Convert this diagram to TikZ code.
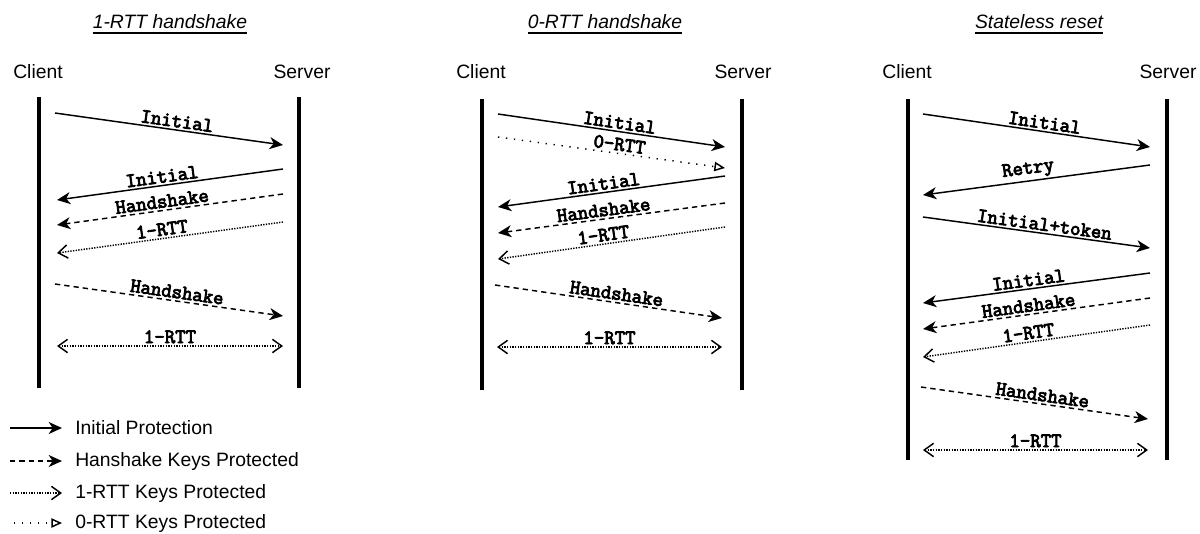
\documentclass[tikz,border=0pt]{standalone}
\usepackage{fontspec}
\setmainfont{Liberation Sans}
\newfontfamily\msgfont[FakeBold=4]{Latin Modern Mono}
\usetikzlibrary{arrows.meta}

\begin{document}
\begin{tikzpicture}[
  x=0.75pt, y=-0.75pt,
  title/.style={font=\fontsize{14.5}{17}\selectfont\itshape, inner sep=0pt},
  uline/.style={line width=1.1pt},
  party/.style={font=\fontsize{14.5}{17}\selectfont, inner sep=0pt},
  legend/.style={font=\fontsize{14.5}{17}\selectfont, anchor=west, inner sep=0pt},
  lbl/.style={font=\msgfont\fontsize{15.2}{17}\selectfont,
              above, sloped, inner sep=1.5pt, pos=0.53},
  lifeline/.style={line width=3pt},
  initmsg/.style={line width=1.1pt, -{Stealth[length=10pt, width=9pt, inset=3pt]}},
  hsmsg/.style={initmsg, dash pattern=on 4pt off 3pt},
  rttmsg/.style={line width=1.1pt, dash pattern=on 1pt off 1pt,
                 -{Straight Barb[length=7pt, width=10pt]}},
  bothrtt/.style={rttmsg, {Straight Barb[length=7pt, width=10pt]}-{Straight Barb[length=7pt, width=10pt]}},
  zrttmsg/.style={line width=1.1pt, dash pattern=on 1pt off 5pt,
                  -{Triangle[open, length=8pt, width=7pt]}},
]
  \useasboundingbox (0,0) rectangle (1200,533);

  % -- 1-RTT handshake --
  \node[title] (t1) at (170,22) {1-RTT handshake};
  \draw[uline] ([yshift=-2.6pt]t1.south west) -- ([yshift=-2.6pt]t1.south east);
  \node[party] (c1) at (38,72) {Client};
  \node[party] (s1) at (302,72) {Server};
  \coordinate (c1top) at (39,97);  \coordinate (c1bot) at (39,388);
  \coordinate (s1top) at (299,97); \coordinate (s1bot) at (299,388);
  \draw[lifeline] (c1top) -- (c1bot);
  \draw[lifeline] (s1top) -- (s1bot);

  \coordinate (a1) at (55,113);  \coordinate (b1) at (283,145);
  \coordinate (a2) at (283,169); \coordinate (b2) at (57,200);
  \coordinate (a3) at (283,194); \coordinate (b3) at (57,225);
  \coordinate (a4) at (283,222); \coordinate (b4) at (57,253);
  \coordinate (a5) at (55,284);  \coordinate (b5) at (283,316);
  \coordinate (a6) at (57,346);  \coordinate (b6) at (283,346);
  \draw[initmsg] (a1) -- node[lbl] {Initial} (b1);
  \draw[initmsg] (a2) -- node[lbl] {Initial} (b2);
  \draw[hsmsg] (a3) -- node[lbl] {Handshake} (b3);
  \draw[rttmsg] (a4) -- node[lbl] {1-RTT} (b4);
  \draw[hsmsg] (a5) -- node[lbl] {Handshake} (b5);
  \draw[bothrtt] (a6) -- node[lbl, pos=0.5] {1-RTT} (b6);

  % -- 0-RTT handshake --
  \node[title] (t2) at (605,22) {0-RTT handshake};
  \draw[uline] ([yshift=-2.6pt]t2.south west) -- ([yshift=-2.6pt]t2.south east);
  \node[party] (c2) at (481,72) {Client};
  \node[party] (s2) at (743,72) {Server};
  \coordinate (c2top) at (482,99); \coordinate (c2bot) at (482,390);
  \coordinate (s2top) at (742,99); \coordinate (s2bot) at (742,390);
  \draw[lifeline] (c2top) -- (c2bot);
  \draw[lifeline] (s2top) -- (s2bot);

  \coordinate (d1) at (498,114); \coordinate (e1) at (725,147);
  \coordinate (d2) at (498,137); \coordinate (e2) at (725,168);
  \coordinate (d3) at (725,176); \coordinate (e3) at (498,207);
  \coordinate (d4) at (725,203); \coordinate (e4) at (498,233);
  \coordinate (d5) at (725,227); \coordinate (e5) at (498,259);
  \coordinate (d6) at (495,285); \coordinate (e6) at (722,318);
  \coordinate (d7) at (497,347); \coordinate (e7) at (722,347);
  \draw[initmsg] (d1) -- node[lbl] {Initial} (e1);
  \draw[zrttmsg] (d2) -- node[lbl] {0-RTT} (e2);
  \draw[initmsg] (d3) -- node[lbl] {Initial} (e3);
  \draw[hsmsg] (d4) -- node[lbl] {Handshake} (e4);
  \draw[rttmsg] (d5) -- node[lbl] {1-RTT} (e5);
  \draw[hsmsg] (d6) -- node[lbl] {Handshake} (e6);
  \draw[bothrtt] (d7) -- node[lbl, pos=0.5] {1-RTT} (e7);

  % -- Stateless reset --
  \node[title] (t3) at (1039,22) {Stateless reset};
  \draw[uline] ([yshift=-2.6pt]t3.south west) -- ([yshift=-2.6pt]t3.south east);
  \node[party] (c3) at (907,72) {Client};
  \node[party] (s3) at (1168,72) {Server};
  \coordinate (c3top) at (908,99);  \coordinate (c3bot) at (908,460);
  \coordinate (s3top) at (1167,99); \coordinate (s3bot) at (1167,460);
  \draw[lifeline] (c3top) -- (c3bot);
  \draw[lifeline] (s3top) -- (s3bot);

  \coordinate (f1) at (923,114);  \coordinate (g1) at (1150,147);
  \coordinate (f2) at (1150,165); \coordinate (g2) at (923,195);
  \coordinate (f3) at (923,217);  \coordinate (g3) at (1150,248);
  \coordinate (f4) at (1150,273); \coordinate (g4) at (923,303);
  \coordinate (f5) at (1150,298); \coordinate (g5) at (923,329);
  \coordinate (f6) at (1150,325); \coordinate (g6) at (923,357);
  \coordinate (f7) at (921,387);  \coordinate (g7) at (1148,419);
  \coordinate (f8) at (923,450);  \coordinate (g8) at (1148,450);
  \draw[initmsg] (f1) -- node[lbl] {Initial} (g1);
  \draw[initmsg] (f2) -- node[lbl] {Retry} (g2);
  \draw[initmsg] (f3) -- node[lbl] {Initial+token} (g3);
  \draw[initmsg] (f4) -- node[lbl] {Initial} (g4);
  \draw[hsmsg] (f5) -- node[lbl] {Handshake} (g5);
  \draw[rttmsg] (f6) -- node[lbl] {1-RTT} (g6);
  \draw[hsmsg] (f7) -- node[lbl] {Handshake} (g7);
  \draw[bothrtt] (f8) -- node[lbl, pos=0.5] {1-RTT} (g8);

  % -- Legend --
  \coordinate (k1) at (10,428); \coordinate (l1) at (62,428);
  \coordinate (k2) at (10,461); \coordinate (l2) at (62,461);
  \coordinate (k3) at (10,493); \coordinate (l3) at (62,493);
  \coordinate (k4) at (14,523); \coordinate (l4) at (62,523);
  \draw[initmsg] (k1) -- (l1);
  \draw[hsmsg] (k2) -- (l2);
  \draw[rttmsg] (k3) -- (l3);
  \draw[zrttmsg] (k4) -- (l4);
  \node[legend] (lg1) at (75,428) {Initial Protection};
  \node[legend] (lg2) at (75,461) {Hanshake Keys Protected};
  \node[legend] (lg3) at (75,493) {1-RTT Keys Protected};
  \node[legend] (lg4) at (75,523) {0-RTT Keys Protected};

\end{tikzpicture}
\end{document}
